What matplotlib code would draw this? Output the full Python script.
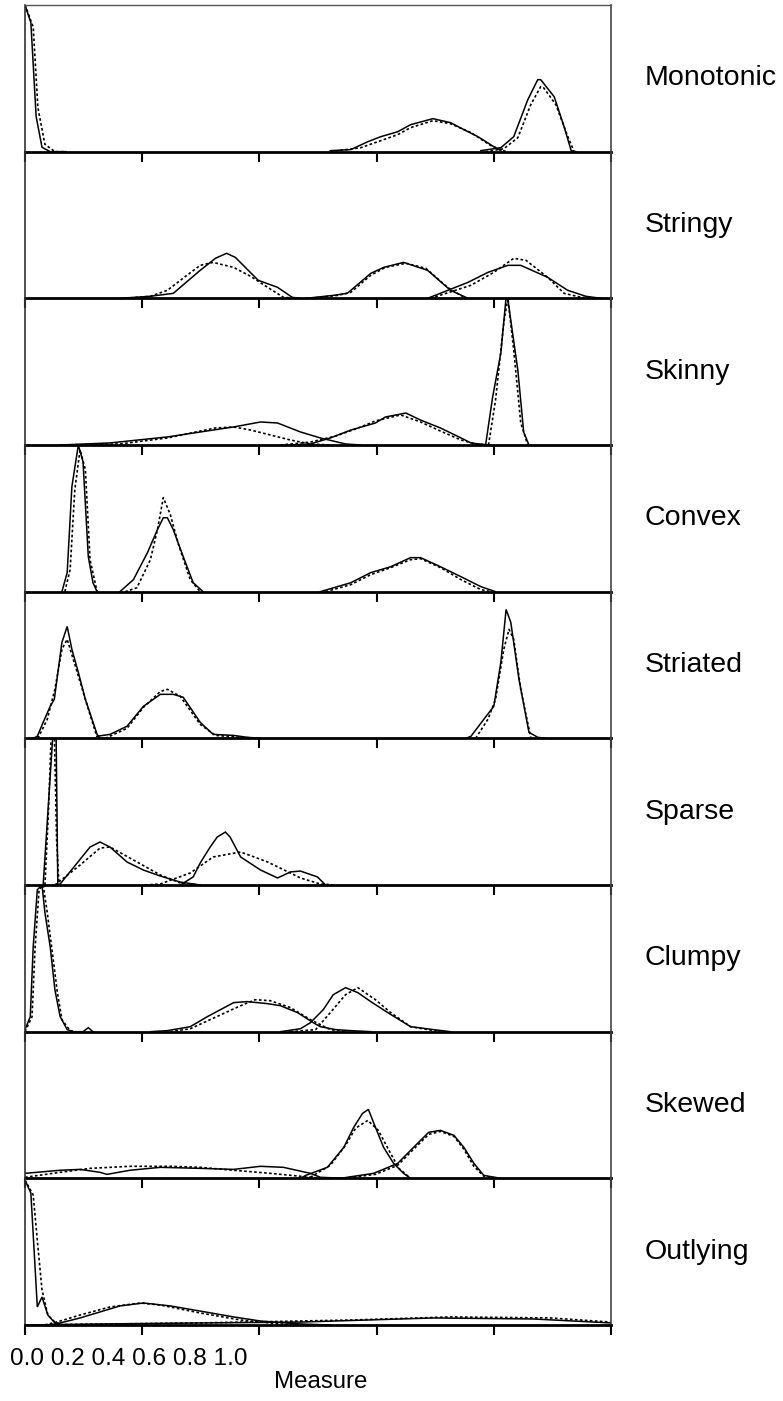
import matplotlib
matplotlib.use("Agg")
import matplotlib.pyplot as plt

plt.rcParams['font.family'] = ['Liberation Sans', 'DejaVu Sans']

categories = ["Monotonic", "Stringy", "Skinny", "Convex", "Striated",
              "Sparse", "Clumpy", "Skewed", "Outlying"]
tick_values = [0.0, 0.2, 0.4, 0.6, 0.8, 1.0]
tick_text = "0.0 0.2 0.4 0.6 0.8 1.0"
x_label = "Measure"

# Each panel: three density curves, solid (observed) and dotted (second estimate).
# x in measure units, y as share of the panel height.
monotonic_solid_x = [[0, 0.010, 0.019, 0.029, 0.043, 0.07],
                     [0.521, 0.556, 0.585, 0.607, 0.636, 0.658, 0.696, 0.726, 0.749, 0.773, 0.800, 0.812],
                     [0.778, 0.812, 0.834, 0.858, 0.875, 0.880, 0.903, 0.920, 0.932, 0.940]]
monotonic_solid_y = [[1.0, 0.88, 0.24, 0.03, 0.0, 0.0],
                     [0.007, 0.014, 0.068, 0.102, 0.136, 0.184, 0.225, 0.198, 0.150, 0.102, 0.034, 0.007],
                     [0.007, 0.027, 0.102, 0.354, 0.491, 0.491, 0.375, 0.170, 0.007, 0.0]]
monotonic_dot_x = [[0, 0.014, 0.022, 0.034, 0.051, 0.07],
                   [0.521, 0.573, 0.607, 0.636, 0.658, 0.696, 0.726, 0.761, 0.795, 0.821],
                   [0.786, 0.817, 0.841, 0.863, 0.880, 0.885, 0.906, 0.925, 0.937]]
monotonic_dot_y = [[1.0, 0.85, 0.30, 0.05, 0.0, 0.0],
                   [0.0, 0.027, 0.075, 0.116, 0.164, 0.211, 0.191, 0.130, 0.041, 0.0],
                   [0.0, 0.02, 0.095, 0.32, 0.443, 0.436, 0.32, 0.116, 0.0]]

stringy_solid_x = [[0.162, 0.214, 0.253, 0.299, 0.325, 0.344, 0.359, 0.398, 0.431, 0.456, 0.470],
                   [0.479, 0.526, 0.550, 0.590, 0.612, 0.646, 0.687, 0.726, 0.756],
                   [0.687, 0.756, 0.790, 0.824, 0.846, 0.892, 0.926, 0.957, 0.983]]
stringy_solid_y = [[0.0, 0.014, 0.034, 0.191, 0.273, 0.307, 0.279, 0.123, 0.075, 0.007, 0.0],
                   [0.0, 0.02, 0.034, 0.17, 0.211, 0.245, 0.191, 0.055, 0.0],
                   [0.0, 0.109, 0.177, 0.225, 0.225, 0.143, 0.055, 0.014, 0.0]]
stringy_dot_x = [[0.171, 0.214, 0.243, 0.274, 0.299, 0.321, 0.356, 0.385, 0.414, 0.441, 0.462],
                 [0.487, 0.533, 0.556, 0.590, 0.615, 0.650, 0.684, 0.721, 0.752],
                 [0.692, 0.761, 0.800, 0.834, 0.855, 0.892, 0.920, 0.949, 0.974]]
stringy_dot_y = [[0.0, 0.014, 0.055, 0.15, 0.225, 0.245, 0.211, 0.15, 0.075, 0.007, 0.0],
                 [0.0, 0.02, 0.041, 0.157, 0.211, 0.239, 0.205, 0.075, 0.0],
                 [0.0, 0.089, 0.177, 0.273, 0.259, 0.143, 0.034, 0.007, 0.0]]

skinny_solid_x = [[0.060, 0.145, 0.243, 0.356, 0.402, 0.431, 0.470, 0.504, 0.547, 0.573],
                  [0.453, 0.487, 0.521, 0.556, 0.598, 0.615, 0.650, 0.675, 0.709, 0.744, 0.761, 0.790],
                  [0.786, 0.798, 0.812, 0.822, 0.829, 0.841, 0.851, 0.860]]
skinny_solid_y = [[0.0, 0.014, 0.055, 0.123, 0.157, 0.15, 0.089, 0.048, 0.007, 0.0],
                  [0.0, 0.007, 0.048, 0.102, 0.15, 0.191, 0.218, 0.17, 0.116, 0.048, 0.014, 0.0],
                  [0.0, 0.327, 0.627, 1.05, 0.85, 0.511, 0.089, 0.0]]
skinny_dot_x = [[0.060, 0.162, 0.243, 0.299, 0.325, 0.356, 0.385, 0.453, 0.487, 0.521],
                [0.436, 0.487, 0.530, 0.564, 0.598, 0.641, 0.675, 0.709, 0.744, 0.769, 0.795],
                [0.791, 0.803, 0.817, 0.824, 0.834, 0.846, 0.858]]
skinny_dot_y = [[0.0, 0.007, 0.048, 0.095, 0.116, 0.123, 0.102, 0.034, 0.007, 0.0],
                [0.0, 0.02, 0.061, 0.109, 0.164, 0.205, 0.157, 0.095, 0.034, 0.007, 0.0],
                [0.0, 0.307, 0.832, 1.0, 0.648, 0.15, 0.0]]

convex_solid_x = [[0.063, 0.072, 0.080, 0.091, 0.099, 0.108, 0.116, 0.123],
                  [0.162, 0.185, 0.209, 0.226, 0.236, 0.243, 0.253, 0.270, 0.287, 0.304],
                  [0.504, 0.556, 0.590, 0.624, 0.658, 0.675, 0.709, 0.744, 0.778, 0.803]]
convex_solid_y = [[0.0, 0.13, 0.716, 1.0, 0.886, 0.239, 0.061, 0.0],
                  [0.0, 0.082, 0.266, 0.423, 0.504, 0.504, 0.423, 0.239, 0.061, 0.0],
                  [0.0, 0.061, 0.13, 0.17, 0.232, 0.232, 0.17, 0.102, 0.034, 0.0]]
convex_dot_x = [[0.068, 0.077, 0.085, 0.094, 0.103, 0.111, 0.123],
                [0.171, 0.191, 0.214, 0.226, 0.236, 0.248, 0.262, 0.282, 0.299],
                [0.513, 0.556, 0.590, 0.624, 0.658, 0.675, 0.709, 0.744, 0.778, 0.795]]
convex_dot_y = [[0.0, 0.15, 0.695, 0.968, 0.832, 0.218, 0.0],
                [0.0, 0.027, 0.218, 0.423, 0.641, 0.525, 0.32, 0.082, 0.0],
                [0.0, 0.048, 0.116, 0.164, 0.218, 0.225, 0.164, 0.082, 0.014, 0.0]]

striated_solid_x = [[0.014, 0.021, 0.031, 0.043, 0.050, 0.063, 0.072, 0.080, 0.091, 0.103, 0.123, 0.128],
                    [0.123, 0.145, 0.174, 0.202, 0.231, 0.253, 0.270, 0.299, 0.321, 0.356, 0.379, 0.402],
                    [0.752, 0.761, 0.783, 0.800, 0.812, 0.821, 0.829, 0.843, 0.860, 0.875, 0.889]]
striated_solid_y = [[0.0, 0.014, 0.109, 0.218, 0.266, 0.654, 0.763, 0.607, 0.45, 0.266, 0.027, 0.0],
                    [0.014, 0.027, 0.082, 0.218, 0.3, 0.3, 0.28, 0.109, 0.027, 0.02, 0.007, 0.0],
                    [0.0, 0.014, 0.13, 0.218, 0.518, 0.879, 0.791, 0.402, 0.041, 0.007, 0.0]]
striated_dot_x = [[0.022, 0.038, 0.051, 0.063, 0.072, 0.085, 0.103, 0.123],
                  [0.137, 0.174, 0.202, 0.231, 0.243, 0.265, 0.299, 0.325, 0.368, 0.402],
                  [0.769, 0.790, 0.803, 0.817, 0.826, 0.834, 0.846, 0.863]]
striated_dot_y = [[0.0, 0.13, 0.334, 0.607, 0.675, 0.504, 0.266, 0.007],
                  [0.0, 0.068, 0.211, 0.32, 0.334, 0.286, 0.095, 0.02, 0.007, 0.0],
                  [0.0, 0.13, 0.266, 0.607, 0.743, 0.675, 0.334, 0.007]]

sparse_solid_x = [[0.031, 0.048, 0.053, 0.056],
                  [0.056, 0.060, 0.089, 0.111, 0.128, 0.145, 0.174, 0.202, 0.231, 0.265, 0.299],
                  [0.265, 0.287, 0.299, 0.316, 0.328, 0.342, 0.350, 0.368, 0.402, 0.431, 0.453, 0.470, 0.499, 0.513]]
sparse_solid_y = [[0.0, 1.05, 1.05, 0.0],
                  [0.0, 0.007, 0.15, 0.259, 0.293, 0.259, 0.157, 0.102, 0.061, 0.02, 0.0],
                  [0.0, 0.055, 0.15, 0.259, 0.327, 0.361, 0.327, 0.191, 0.102, 0.048, 0.089, 0.095, 0.055, 0.0]]
sparse_dot_x = [[0.034, 0.040, 0.045, 0.050, 0.054, 0.058],
                [0.051, 0.094, 0.128, 0.145, 0.179, 0.231, 0.265, 0.299],
                [0.205, 0.231, 0.282, 0.321, 0.368, 0.414, 0.470, 0.504, 0.530]]
sparse_dot_y = [[0.0, 0.5, 1.05, 1.05, 0.3, 0.0],
                [0.0, 0.136, 0.252, 0.259, 0.184, 0.068, 0.014, 0.0],
                [0.0, 0.007, 0.082, 0.191, 0.225, 0.157, 0.048, 0.007, 0.0]]

clumpy_solid_x = [[0.0, 0.009, 0.014, 0.021, 0.029, 0.034, 0.043, 0.051, 0.060, 0.072, 0.082, 0.099, 0.108, 0.116],
                  [0.214, 0.243, 0.282, 0.311, 0.356, 0.379, 0.414, 0.436, 0.465, 0.492, 0.504, 0.530, 0.556, 0.590],
                  [0.436, 0.470, 0.487, 0.509, 0.526, 0.547, 0.568, 0.590, 0.619, 0.658, 0.697, 0.726]]
clumpy_solid_y = [[0.014, 0.102, 0.579, 0.968, 1.0, 0.811, 0.579, 0.286, 0.102, 0.014, 0.0, 0.0, 0.027, 0.0],
                  [0.0, 0.007, 0.034, 0.102, 0.198, 0.205, 0.191, 0.177, 0.13, 0.061, 0.034, 0.014, 0.007, 0.0],
                  [0.0, 0.02, 0.061, 0.15, 0.252, 0.3, 0.266, 0.205, 0.13, 0.034, 0.014, 0.0]]
clumpy_dot_x = [[0.0, 0.012, 0.017, 0.024, 0.031, 0.038, 0.046, 0.055, 0.063, 0.077, 0.085],
                [0.248, 0.282, 0.316, 0.368, 0.393, 0.419, 0.453, 0.487, 0.521, 0.547],
                [0.453, 0.496, 0.521, 0.547, 0.568, 0.598, 0.624, 0.658, 0.709]]
clumpy_dot_y = [[0.0, 0.102, 0.559, 0.968, 1.0, 0.811, 0.559, 0.273, 0.082, 0.007, 0.0],
                [0.0, 0.02, 0.082, 0.177, 0.218, 0.211, 0.164, 0.082, 0.014, 0.0],
                [0.0, 0.014, 0.13, 0.252, 0.3, 0.218, 0.13, 0.034, 0.0]]

skewed_solid_x = [[0.0, 0.060, 0.094, 0.128, 0.140, 0.179, 0.231, 0.299, 0.356, 0.402, 0.441, 0.487, 0.504, 0.547],
                  [0.470, 0.479, 0.516, 0.544, 0.561, 0.576, 0.586, 0.598, 0.612, 0.629, 0.646, 0.658],
                  [0.538, 0.595, 0.636, 0.663, 0.689, 0.709, 0.732, 0.749, 0.766, 0.783, 0.812]]
skewed_solid_y = [[0.034, 0.055, 0.061, 0.041, 0.027, 0.055, 0.075, 0.068, 0.061, 0.082, 0.075, 0.034, 0.007, 0.0],
                  [0.0, 0.02, 0.075, 0.211, 0.348, 0.443, 0.47, 0.348, 0.211, 0.102, 0.034, 0.0],
                  [0.0, 0.034, 0.102, 0.211, 0.314, 0.327, 0.293, 0.211, 0.102, 0.02, 0.0]]
skewed_dot_x = [[0.0, 0.060, 0.111, 0.179, 0.248, 0.299, 0.356, 0.419, 0.470, 0.504],
                [0.470, 0.487, 0.521, 0.547, 0.564, 0.585, 0.603, 0.621, 0.638, 0.658],
                [0.544, 0.598, 0.636, 0.663, 0.689, 0.709, 0.732, 0.749, 0.766, 0.783, 0.807]]
skewed_dot_y = [[0.007, 0.041, 0.068, 0.082, 0.082, 0.075, 0.055, 0.034, 0.014, 0.0],
                [0.0, 0.007, 0.089, 0.225, 0.341, 0.395, 0.327, 0.191, 0.068, 0.0],
                [0.0, 0.027, 0.089, 0.198, 0.3, 0.32, 0.286, 0.198, 0.082, 0.014, 0.0]]

outlying_solid_x = [[0.0, 0.010, 0.021, 0.029, 0.039, 0.051, 0.063],
                    [0.043, 0.060, 0.094, 0.128, 0.162, 0.202, 0.248, 0.299, 0.356, 0.402, 0.470, 0.521],
                    [0.0, 0.128, 0.299, 0.470, 0.697, 0.868, 1.0]]
outlying_solid_y = [[0.988, 0.9, 0.123, 0.191, 0.068, 0.014, 0.0],
                    [0.0, 0.014, 0.048, 0.089, 0.13, 0.15, 0.13, 0.095, 0.055, 0.027, 0.007, 0.0],
                    [0.0, 0.007, 0.014, 0.02, 0.048, 0.041, 0.014]]
outlying_dot_x = [[0.0, 0.014, 0.021, 0.029, 0.039, 0.051, 0.063],
                  [0.034, 0.060, 0.094, 0.145, 0.197, 0.231, 0.299, 0.368, 0.436, 0.487],
                  [0.0, 0.299, 0.556, 0.726, 0.897, 1.0]]
outlying_dot_y = [[0.988, 0.886, 0.579, 0.239, 0.068, 0.02, 0.0],
                  [0.0, 0.027, 0.068, 0.123, 0.15, 0.136, 0.082, 0.034, 0.007, 0.0],
                  [0.0, 0.014, 0.034, 0.055, 0.048, 0.02]]

panels = [
    (monotonic_solid_x, monotonic_solid_y, monotonic_dot_x, monotonic_dot_y),
    (stringy_solid_x, stringy_solid_y, stringy_dot_x, stringy_dot_y),
    (skinny_solid_x, skinny_solid_y, skinny_dot_x, skinny_dot_y),
    (convex_solid_x, convex_solid_y, convex_dot_x, convex_dot_y),
    (striated_solid_x, striated_solid_y, striated_dot_x, striated_dot_y),
    (sparse_solid_x, sparse_solid_y, sparse_dot_x, sparse_dot_y),
    (clumpy_solid_x, clumpy_solid_y, clumpy_dot_x, clumpy_dot_y),
    (skewed_solid_x, skewed_solid_y, skewed_dot_x, skewed_dot_y),
    (outlying_solid_x, outlying_solid_y, outlying_dot_x, outlying_dot_y),
]

W, H = 783, 1401
fig = plt.figure(figsize=(W / 100, H / 100), dpi=100)

left_px, right_px, top_px, bottom_px = 25, 611, 5, 1325
ph = (bottom_px - top_px) / len(categories)

axes = []
for i, (cat, (sx, sy, dx, dy)) in enumerate(zip(categories, panels)):
    y0 = top_px + ph * (i + 1)
    ax = fig.add_axes([left_px / W, 1 - y0 / H, (right_px - left_px) / W, ph / H])
    ax.patch.set_visible(False)
    ax.set_xlim(0, 1)
    ax.set_ylim(0, 1)
    for xs, ys in zip(sx, sy):
        ax.plot(xs, ys, color='black', lw=1.1, solid_joinstyle='miter')
    for xs, ys in zip(dx, dy):
        ax.plot(xs, ys, color='black', lw=1.2, linestyle=(0, (1.6, 1.4)))
    ax.set_xticks(tick_values)
    ax.set_yticks([])
    ax.tick_params(axis='x', direction='out', length=7.5, width=1.5,
                   labelbottom=False, color='black')
    ax.spines['bottom'].set_linewidth(2.0)
    ax.spines['bottom'].set_color('black')
    ax.spines['left'].set_linewidth(1.2)
    ax.spines['left'].set_color('#333333')
    ax.spines['right'].set_linewidth(1.2)
    ax.spines['right'].set_color('#444444')
    if i == 0:
        ax.spines['top'].set_linewidth(1.0)
        ax.spines['top'].set_color('#555555')
    else:
        ax.spines['top'].set_visible(False)
    fig.text(645 / W, 1 - (y0 - ph / 2) / H, cat, fontsize=20.5,
             ha='left', va='center')
    axes.append(ax)

fig.text(10 / W, 1 - 1359 / H, tick_text, fontsize=17.6, ha='left', va='center')
fig.text(321 / W, 1 - 1382 / H, x_label, fontsize=17.3, ha='center', va='center')

fig.savefig("out.png", dpi=100)
